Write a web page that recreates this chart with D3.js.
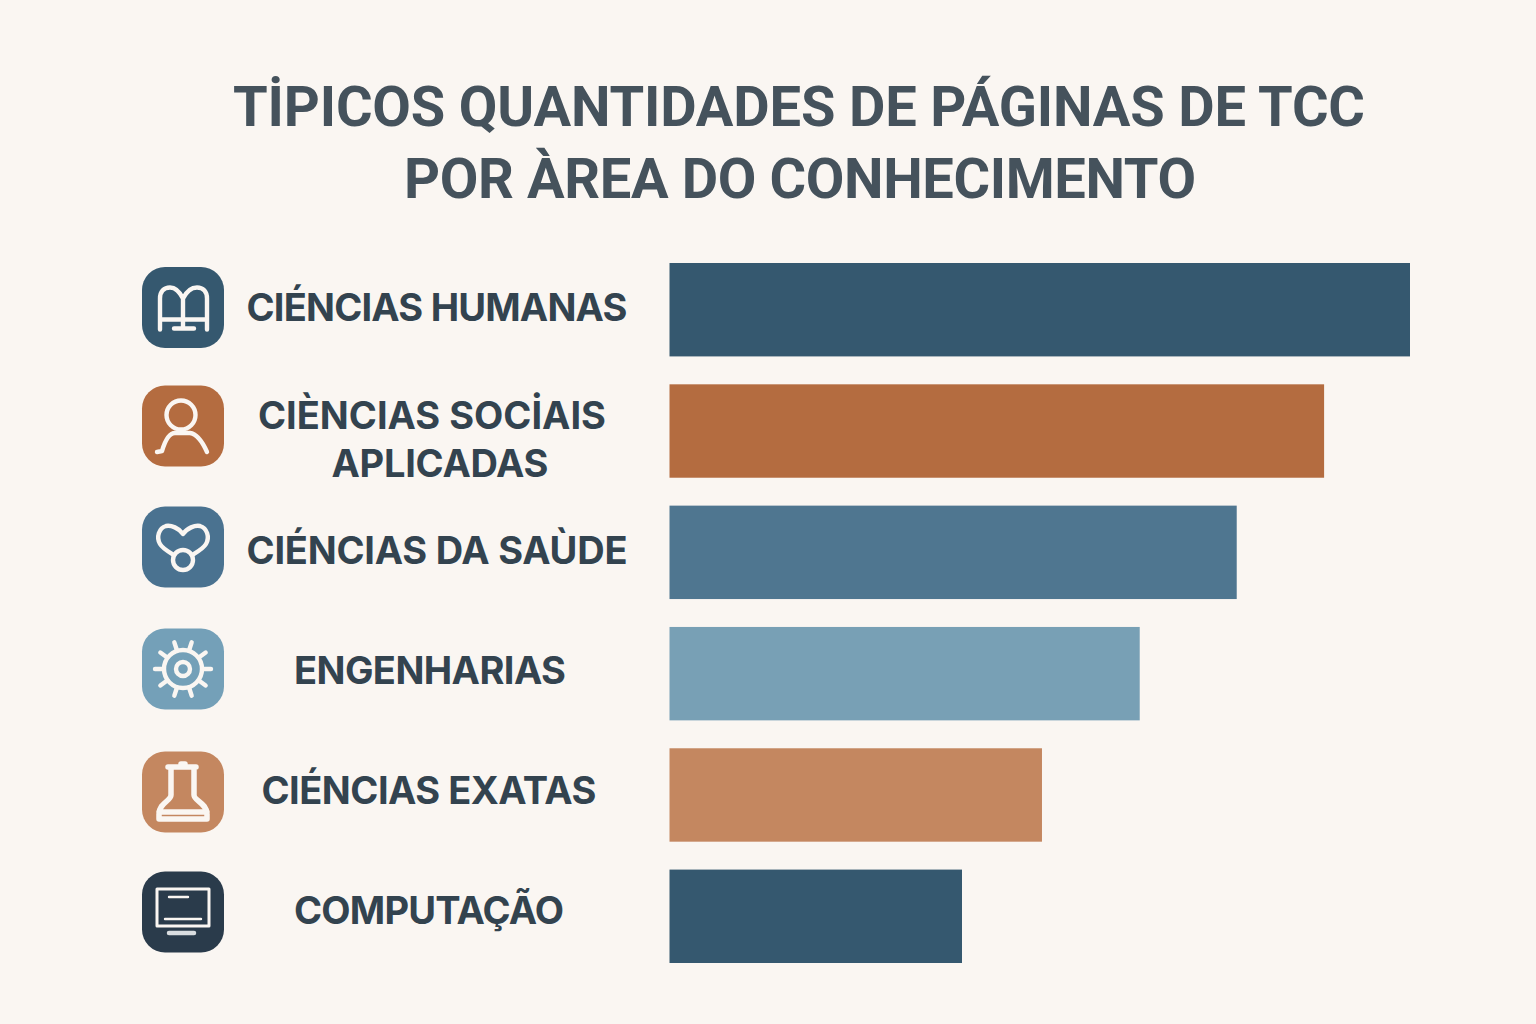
<!DOCTYPE html>
<html>
<head>
<meta charset="utf-8">
<script src="https://cdn.jsdelivr.net/npm/d3@7"></script>
<style>
html, body { margin: 0; padding: 0; background: #faf6f2; }
svg { display: block; }
</style>
</head>
<body>
<div id="graph"></div>
<script>
// values, longest bar = 100
var areas = ['humanas', 'sociais', 'saude', 'engenharias', 'exatas', 'computacao']
var labels = [
	['CIÉNCIAS HUMANAS'],
	['CIÈNCIAS SOCİAIS', 'APLICADAS'],
	['CIÉNCIAS DA SAÙDE'],
	['ENGENHARIAS'],
	['CIÉNCIAS EXATAS'],
	['COMPUTAÇÃO']
]
var values = [100, 88.4, 76.6, 63.5, 50.3, 39.5]
var titleLines = ['TİPICOS QUANTIDADES DE PÁGINAS DE TCC', 'POR ÀREA DO CONHECIMENTO']

// look of each row, same order as areas
var barColors = ['#35586f', '#b46c40', '#4f7690', '#78a0b5', '#c48760', '#35586f']
var iconColors = ['#35586f', '#b46c40', '#4a7290', '#74a0b8', '#c48760', '#2a3b4b']
var iconCenters = [307.5, 426, 547, 669, 792, 912]
var labelCenterY = [307, 439, 550, 670, 790, 910]
// measured line widths in the reference
var titleWidths = [1132, 792]
var labelWidths = [[381], [348, 217], [381], [272], [335], [270]]
var labelLineX = [[437], [432, 440], [437], [430], [429], [429]]

var svg = d3.select('#graph').append('svg')
	.attr('width', 1536)
	.attr('height', 1024)

svg.append('rect')
	.attr('width', 1536)
	.attr('height', 1024)
	.attr('fill', '#faf6f2')

var xScale = d3.scaleLinear()
	.domain([0, 100])
	.range([669.5, 1410])

var yScale = d3.scaleBand()
	.domain(areas)
	.range([263, 963])
	.paddingInner(0.23)

// title
svg.selectAll('text.title')
	.data(titleLines)
	.enter().append('text')
	.attr('class', 'title')
	.attr('x', function(d, i) { return i == 0 ? 799 : 800 })
	.attr('y', function(d, i) { return i == 0 ? 126 : 198 })
	.attr('text-anchor', 'middle')
	.attr('font-family', 'Roboto')
	.attr('font-weight', 700)
	.attr('font-size', 56)
	.attr('fill', '#45525c')
	.attr('textLength', function(d, i) { return titleWidths[i] })
	.attr('lengthAdjust', 'spacing')
	.text(function(d) { return d })

// bars
svg.selectAll('rect.bar')
	.data(values)
	.enter().append('rect')
	.attr('class', 'bar')
	.attr('x', xScale(0))
	.attr('y', function(d, i) { return yScale(areas[i]) })
	.attr('width', function(d) { return xScale(d) - xScale(0) })
	.attr('height', yScale.bandwidth())
	.attr('fill', function(d, i) { return barColors[i] })

// labels
var labelGroups = svg.selectAll('g.label')
	.data(labels)
	.enter().append('g')
	.attr('class', 'label')

labelGroups.selectAll('text')
	.data(function(d, i) {
		return d.map(function(line, j) {
			return {
				line: line,
				x: labelLineX[i][j],
				y: labelCenterY[i] + 14 + (j - (d.length - 1) / 2) * 48,
				width: labelWidths[i][j]
			}
		})
	})
	.enter().append('text')
	.attr('x', function(d) { return d.x })
	.attr('y', function(d) { return d.y })
	.attr('text-anchor', 'middle')
	.attr('font-family', 'Inter')
	.attr('font-weight', 650)
	.attr('font-size', 38)
	.attr('fill', '#33434f')
	.attr('textLength', function(d) { return d.width })
	.attr('lengthAdjust', 'spacing')
	.text(function(d) { return d.line })

// icons
var icons = svg.selectAll('g.icon')
	.data(areas)
	.enter().append('g')
	.attr('class', 'icon')
	.attr('transform', function(d, i) { return 'translate(183,' + iconCenters[i] + ')' })

icons.append('rect')
	.attr('x', -41)
	.attr('y', -40.5)
	.attr('width', 82)
	.attr('height', 81)
	.attr('rx', 23)
	.attr('fill', function(d, i) { return iconColors[i] })

var glyphs = icons.append('g')
	.attr('fill', 'none')
	.attr('stroke', '#faf6f2')
	.attr('stroke-width', 4.4)
	.attr('stroke-linecap', 'round')
	.attr('stroke-linejoin', 'round')

function glyph(name) {
	return glyphs.filter(function(d) { return d == name })
}

// book
glyph('humanas').append('path')
	.attr('d', 'M-23,22V-9C-23,-16 -19,-20 -13,-20C-8,-20 -3,-15 0,-9C3,-15 8,-20 14,-20C20,-20 24,-16 24,-9V22'
		+ 'M0,-9V19M-9,21H11M-23,12H24')

// person
glyph('sociais').append('circle')
	.attr('cx', -2).attr('cy', -11).attr('r', 14.5)
glyph('sociais').append('path')
	.attr('d', 'M-26,26L-21,25C-18,15 -14,7 -8,7H7C15,8 20,17 24,26')

// heart and stethoscope ring
glyph('saude').append('circle')
	.attr('cx', 0).attr('cy', 13).attr('r', 10)
glyph('saude').append('path')
	.attr('d', 'M0,-13C-4,-19 -12,-22 -17,-21C-24,-19 -27,-10 -23,-3C-20,2 -14,5 -9,8'
		+ 'M0,-13C4,-19 12,-22 17,-21C24,-19 27,-10 23,-3C20,2 14,5 9,8')

// gear
glyph('engenharias').append('circle')
	.attr('r', 19)
glyph('engenharias').append('circle')
	.attr('r', 7)
glyph('engenharias').selectAll('line')
	.data(d3.range(10))
	.enter().append('line')
	.attr('x1', function(d) { return 20 * Math.cos(d * Math.PI / 5) })
	.attr('y1', function(d) { return 20 * Math.sin(d * Math.PI / 5) })
	.attr('x2', function(d) { return 28 * Math.cos(d * Math.PI / 5) })
	.attr('y2', function(d) { return 28 * Math.sin(d * Math.PI / 5) })

// flask
glyph('exatas').append('path')
	.attr('stroke-width', 5.5)
	.attr('d', 'M-15,-25H13M-2,-28H2M-12,-25V3C-12,9 -24,11 -24,22V27H24V22C24,11 11,9 11,3V-25M-24,20H24')

// monitor
glyph('computacao').append('rect')
	.attr('x', -26).attr('y', -23).attr('width', 52).attr('height', 37)
	.attr('stroke-width', 3)
	.attr('stroke-linecap', 'butt')
glyph('computacao').append('path')
	.attr('stroke-width', 2.4)
	.attr('d', 'M-14,-15H5M-18,7H18')
glyph('computacao').append('path')
	.attr('stroke-width', 4.5)
	.attr('stroke', '#d9dde0')
	.attr('d', 'M-14,21H11')
</script>
</body>
</html>
